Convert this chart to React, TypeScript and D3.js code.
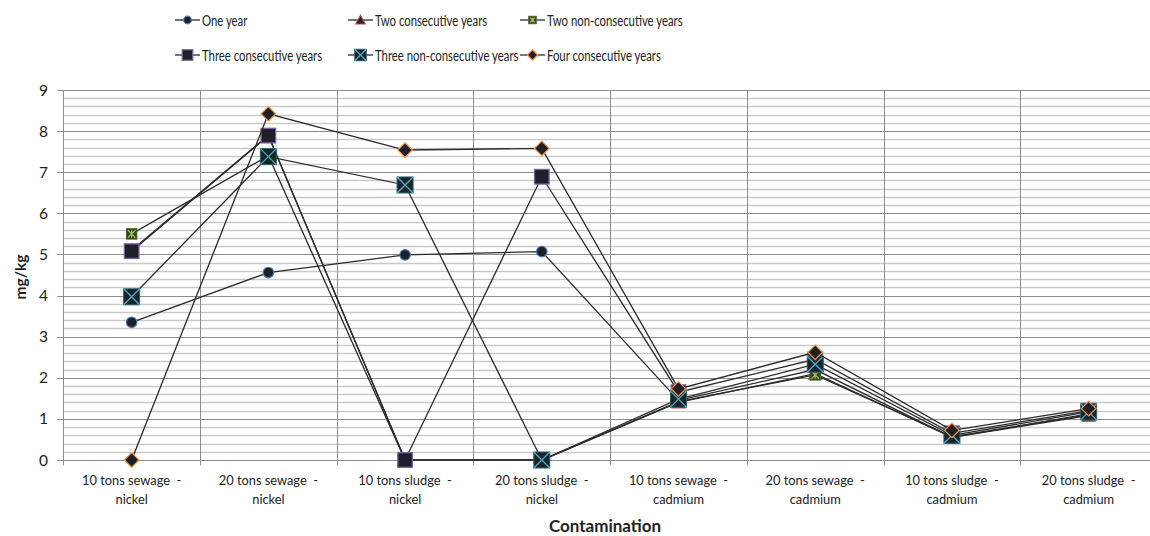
import React from "react";
import * as d3 from "d3";

const line1 = [
  "10 tons sewage  -",
  "20 tons sewage  -",
  "10 tons sludge  -",
  "20 tons sludge  -",
  "10 tons sewage  -",
  "20 tons sewage  -",
  "10 tons sludge  -",
  "20 tons sludge  -",
];
const line2 = ["nickel", "nickel", "nickel", "nickel", "cadmium", "cadmium", "cadmium", "cadmium"];
const categories = line1.map((l, i) => l + " " + line2[i] + i);

const oneYear = [3.35, 4.56, 4.99, 5.07, 1.45, 2.2, 0.55, 1.12];
const twoConsec = [5.1, 7.9, 0, 0, 1.4, 2.1, 0.55, 1.08];
const twoNonConsec = [5.5, 7.4, 0, 0, 1.42, 2.07, 0.57, 1.1];
const threeConsec = [5.08, 7.89, 0, 6.89, 1.65, 2.45, 0.65, 1.2];
const threeNonConsec = [3.97, 7.38, 6.69, 0, 1.48, 2.33, 0.6, 1.17];
const fourConsec = [0, 8.42, 7.54, 7.58, 1.73, 2.62, 0.72, 1.25];

const seriesNames = [
  "One year",
  "Two consecutive years",
  "Two non-consecutive years",
  "Three consecutive years",
  "Three non-consecutive years",
  "Four consecutive years",
];
const seriesValues = [oneYear, twoConsec, twoNonConsec, threeConsec, threeNonConsec, fourConsec];
const markerTypes = ["circle", "triangle", "star", "square", "xsquare", "diamond"];
const yTicks = [0, 1, 2, 3, 4, 5, 6, 7, 8, 9];

const FONT = "Lato, 'Open Sans', sans-serif";

function Marker({ type, cx, cy, s = 1 }: { type: string; cx: number; cy: number; s?: number }) {
  const dark = "#1d2127";
  if (type === "circle") {
    return <circle cx={cx} cy={cy} r={5.3 * s} fill={dark} stroke="#4a7ebb" strokeWidth={1.2} />;
  }
  if (type === "triangle") {
    const h = 6.5 * s;
    return (
      <path
        d={`M${cx},${cy - h} L${cx + h},${cy + h * 0.85} L${cx - h},${cy + h * 0.85} Z`}
        fill={dark}
        stroke="#be4b48"
        strokeWidth={1.2}
      />
    );
  }
  if (type === "star") {
    const h = 5.2 * s;
    const k = h - 1.5;
    return (
      <g>
        <rect x={cx - h} y={cy - h} width={2 * h} height={2 * h} fill="#35432a" stroke="#4f6228" strokeWidth={1} />
        <path
          d={`M${cx - k},${cy - k} L${cx + k},${cy + k} M${cx + k},${cy - k} L${cx - k},${cy + k} M${cx},${cy - k} L${cx},${cy + k}`}
          stroke="#9bbb59"
          strokeWidth={1.3}
        />
      </g>
    );
  }
  if (type === "square") {
    const h = 7.3 * s;
    return <rect x={cx - h} y={cy - h} width={2 * h} height={2 * h} fill={dark} stroke="#7d60a0" strokeWidth={1.3} />;
  }
  if (type === "xsquare") {
    const h = 8 * s;
    return (
      <g>
        <rect x={cx - h} y={cy - h} width={2 * h} height={2 * h} fill="#1b2328" stroke="#2f5f6e" strokeWidth={1} />
        <path
          d={`M${cx - h},${cy - h} L${cx + h},${cy + h} M${cx + h},${cy - h} L${cx - h},${cy + h}`}
          stroke="#4bacc6"
          strokeWidth={1.3}
        />
      </g>
    );
  }
  const h = 7.3 * s;
  return (
    <path
      d={`M${cx},${cy - h} L${cx + h},${cy} L${cx},${cy + h} L${cx - h},${cy} Z`}
      fill={dark}
      stroke="#f79646"
      strokeWidth={1.2}
    />
  );
}

export default function App() {
  const W = 1150;
  const H = 536;
  const left = 63.3;
  const right = 1157;
  const top = 90;
  const bottom = 460;

  const x = d3.scaleBand<string>().domain(categories).range([left, right]);
  const y = d3.scaleLinear().domain([0, 9]).range([bottom, top]);
  const cx = (i: number) => (x(categories[i]) as number) + x.bandwidth() / 2;

  const minorTicks = d3.range(0, 9.0001, 0.2).filter((v) => Math.abs(v - Math.round(v)) > 0.01);
  const lineGen = d3
    .line<number>()
    .x((_, i) => cx(i))
    .y((v) => y(v));

  const legendCols = [175, 348, 520];
  const legendRows = [20, 55];

  return (
    <div style={{ position: "absolute", left: 0, top: 0 }}>
      <svg width={W} height={H} style={{ display: "block", background: "#fff" }}>
        <rect x={0} y={0} width={W} height={H} fill="#ffffff" />
        {minorTicks.map((v, i) => (
          <line key={"mn" + i} x1={left} x2={right} y1={Math.round(y(v)) + 0.5} y2={Math.round(y(v)) + 0.5} stroke="#c9c9c9" strokeWidth={1.3} />
        ))}
        {yTicks.map((v) => (
          <line key={"mj" + v} x1={left - 6} x2={right} y1={Math.round(y(v)) + 0.5} y2={Math.round(y(v)) + 0.5} stroke="#8c8c8c" strokeWidth={1} />
        ))}
        {categories.map((c, i) => {
          const xx = Math.round(x(c) as number) + 0.5;
          return (
            <line key={"v" + i} x1={xx} x2={xx} y1={top} y2={bottom + (i === 0 ? 0 : 5)} stroke="#8c8c8c" strokeWidth={1} />
          );
        })}
        <line x1={Math.round(left) + 0.5} x2={Math.round(left) + 0.5} y1={top} y2={bottom + 5} stroke="#8c8c8c" strokeWidth={1} />
        {yTicks.map((v) => (
          <text key={"yl" + v} x={48} y={y(v) + 5.5} textAnchor="end" fontFamily={FONT} fontSize={15.5} fill="#222">
            {v}
          </text>
        ))}
        {categories.map((c, i) => (
          <g key={"xl" + i} transform={`translate(${cx(i)},0) scale(0.93,1)`}>
            <text x={0} y={485} textAnchor="middle" fontFamily={FONT} fontSize={13.8} fill="#222" style={{ whiteSpace: "pre" }}>
              {line1[i]}
            </text>
            <text x={0} y={504} textAnchor="middle" fontFamily={FONT} fontSize={13.8} fill="#222">
              {line2[i]}
            </text>
          </g>
        ))}
        <text x={605} y={532} textAnchor="middle" fontFamily={FONT} fontSize={17} fontWeight="bold" fill="#222">
          Contamination
        </text>
        <text
          transform={`translate(26,${(top + bottom) / 2 + 2}) rotate(-90)`}
          textAnchor="middle"
          fontFamily={FONT}
          fontSize={15.5}
          fontWeight="bold"
          fill="#222"
        >
          mg/kg
        </text>
        {seriesValues.map((vals, si) => (
          <g key={"s" + si}>
            <path d={lineGen(vals) || ""} fill="none" stroke="#2b2b2b" strokeWidth={1.3} />
            {vals.map((v, i) => (
              <Marker key={i} type={markerTypes[si]} cx={cx(i)} cy={y(v)} />
            ))}
          </g>
        ))}
        {seriesNames.map((name, i) => {
          const lx = legendCols[i % 3];
          const ly = legendRows[Math.floor(i / 3)];
          return (
            <g key={"lg" + i}>
              <line x1={lx} x2={lx + 25} y1={ly} y2={ly} stroke="#2b2b2b" strokeWidth={1.3} />
              <Marker type={markerTypes[i]} cx={lx + 12.5} cy={ly} s={0.72} />
              <g transform={`translate(${lx + 27},${ly + 5.5}) scale(0.71,1)`}>
                <text x={0} y={0} fontFamily={FONT} fontSize={16} fill="#222">
                  {name}
                </text>
              </g>
            </g>
          );
        })}
      </svg>
    </div>
  );
}
